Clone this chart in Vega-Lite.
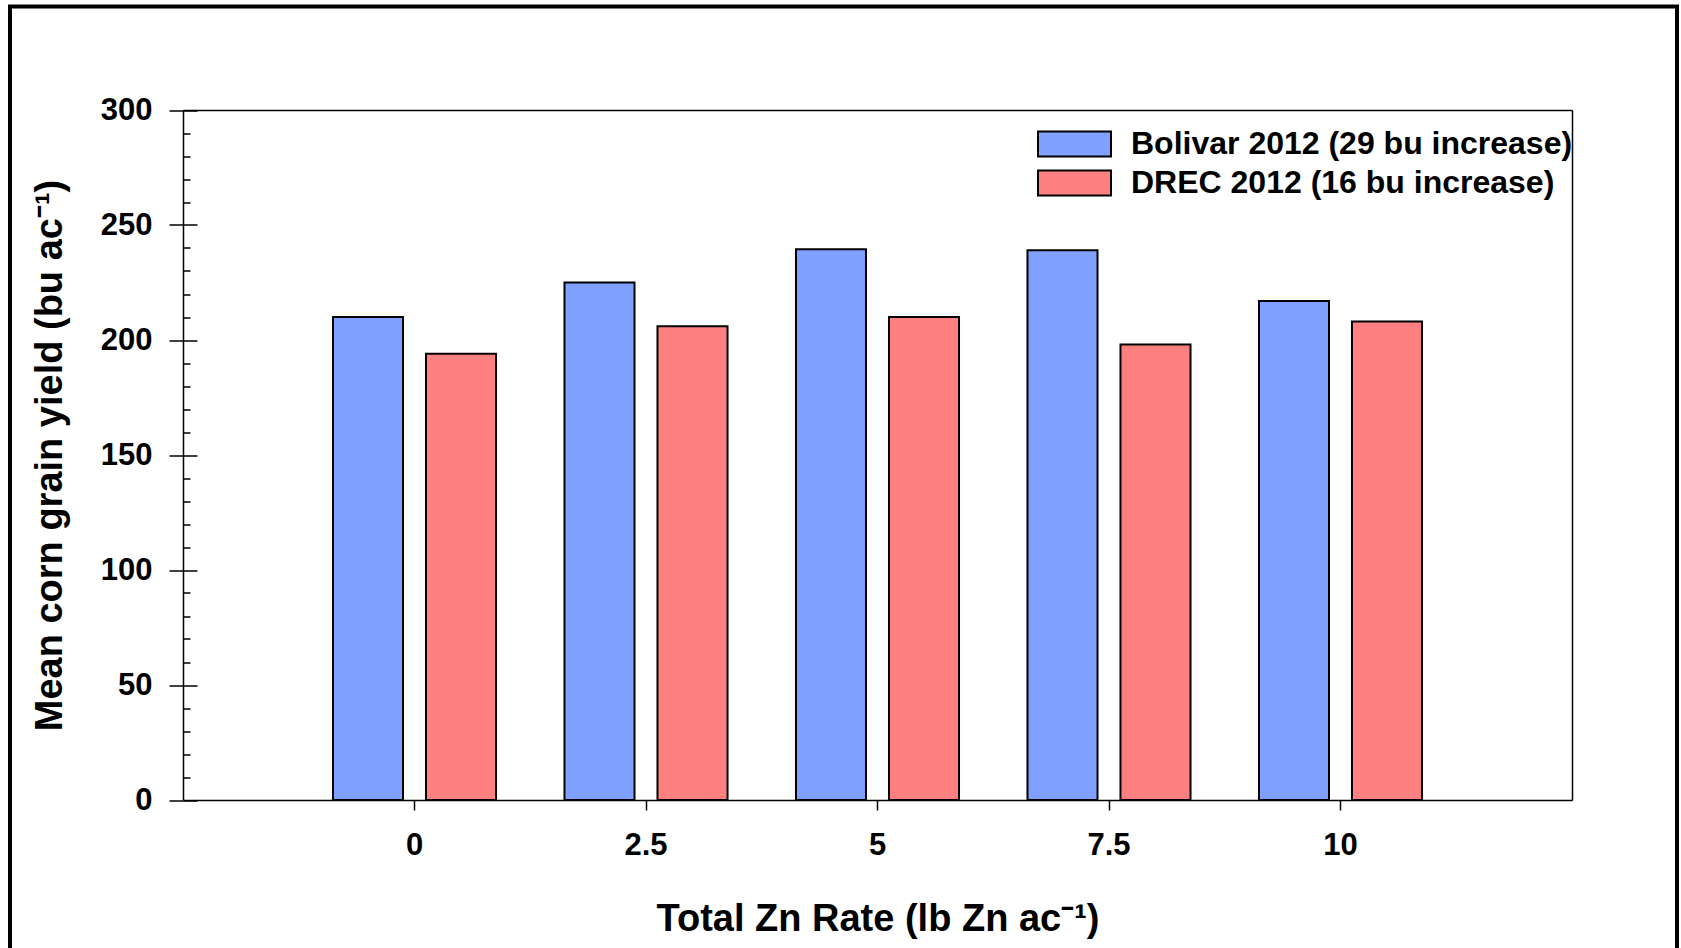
{
  "$schema": "https://vega.github.io/schema/vega-lite/v6.json",
  "width": 1667,
  "height": 951.5,
  "autosize": {"type": "none"},
  "padding": {"left": 10, "top": 6.5, "right": 4, "bottom": -10},
  "background": "white",
  "config": {
    "view": {"stroke": "black", "strokeWidth": 4, "fill": "white"},
    "font": "Liberation Sans",
    "axis": {
      "domainColor": "black", "domainWidth": 1.5,
      "tickColor": "black", "tickWidth": 1.5,
      "labelColor": "black", "titleColor": "black",
      "labelFont": "Liberation Sans", "labelFontWeight": "bold",
      "titleFont": "Liberation Sans", "titleFontWeight": "bold",
      "grid": false
    }
  },
  "data": {
    "values": [
      {"rate": "0", "site": "Bolivar 2012 (29 bu increase)", "yield": 210},
      {"rate": "0", "site": "DREC 2012 (16 bu increase)", "yield": 194},
      {"rate": "2.5", "site": "Bolivar 2012 (29 bu increase)", "yield": 225},
      {"rate": "2.5", "site": "DREC 2012 (16 bu increase)", "yield": 206},
      {"rate": "5", "site": "Bolivar 2012 (29 bu increase)", "yield": 239.5},
      {"rate": "5", "site": "DREC 2012 (16 bu increase)", "yield": 210},
      {"rate": "7.5", "site": "Bolivar 2012 (29 bu increase)", "yield": 239},
      {"rate": "7.5", "site": "DREC 2012 (16 bu increase)", "yield": 198},
      {"rate": "10", "site": "Bolivar 2012 (29 bu increase)", "yield": 217},
      {"rate": "10", "site": "DREC 2012 (16 bu increase)", "yield": 208}
    ]
  },
  "layer": [
    {
      "mark": {"type": "bar", "stroke": "black", "strokeWidth": 2, "opacity": 1},
      "encoding": {
        "x": {
          "field": "rate", "type": "nominal",
          "sort": ["0", "2.5", "5", "7.5", "10"],
          "scale": {"range": [173, 1562], "paddingInner": 0, "paddingOuter": 0.5},
          "axis": {
            "orient": "bottom", "offset": -158,
            "title": "Total Zn Rate (lb Zn ac⁻¹)",
            "titleFontSize": 38, "titlePadding": 40,
            "labelFontSize": 31, "labelPadding": 20, "labelAngle": 0,
            "tickSize": 10, "bandPosition": 0.5
          }
        },
        "xOffset": {
          "field": "site", "type": "nominal",
          "sort": ["Bolivar 2012 (29 bu increase)", "DREC 2012 (16 bu increase)"],
          "scale": {"paddingInner": 0.247, "paddingOuter": 0.368}
        },
        "y": {
          "field": "yield", "type": "quantitative",
          "scale": {"domain": [0, 300], "range": [793.5, 103.5], "nice": false, "zero": true},
          "axis": {
            "orient": "left", "offset": -173,
            "values": [0, 50, 100, 150, 200, 250, 300],
            "tickSize": 14, "labelPadding": 17, "labelFontSize": 31,
            "title": "Mean corn grain yield (bu ac⁻¹)",
            "titleFontSize": 38, "titlePadding": 31
          }
        },
        "color": {
          "field": "site", "type": "nominal",
          "scale": {
            "domain": ["Bolivar 2012 (29 bu increase)", "DREC 2012 (16 bu increase)"],
            "range": ["#80A0FF", "#FF8080"]
          },
          "legend": {
            "orient": "none", "legendX": 1027, "legendY": 120.5,
            "title": null, "padding": 0,
            "symbolType": "M-1,-0.78H3.5625V0.78H-1Z", "symbolSize": 1024,
            "symbolStrokeColor": "black", "symbolStrokeWidth": 2, "symbolOpacity": 1,
            "labelFontSize": 32, "labelFont": "Liberation Sans", "labelFontWeight": "bold",
            "labelColor": "black", "labelLimit": 800, "labelOffset": 60, "rowPadding": 5
          }
        }
      }
    },
    {
      "mark": {"type": "point", "opacity": 0},
      "encoding": {
        "x": {
          "field": "rate", "type": "nominal",
          "sort": ["0", "2.5", "5", "7.5", "10"],
          "scale": {"range": [173, 1562]},
          "axis": {"orient": "top", "offset": -103.5, "ticks": false, "labels": false, "title": null}
        },
        "y": {
          "field": "yield", "type": "quantitative",
          "scale": {"domain": [0, 300], "range": [793.5, 103.5], "nice": false},
          "axis": {"orient": "right", "offset": -105, "ticks": false, "labels": false, "title": null}
        }
      }
    },
    {
      "mark": {"type": "point", "opacity": 0},
      "encoding": {
        "y": {
          "field": "yield", "type": "quantitative",
          "scale": {"domain": [0, 300], "range": [793.5, 103.5], "nice": false},
          "axis": {
            "orient": "right", "offset": -1494,
            "values": [0, 10, 20, 30, 40, 50, 60, 70, 80, 90, 100, 110, 120, 130, 140, 150, 160, 170, 180, 190, 200, 210, 220, 230, 240, 250, 260, 270, 280, 290, 300],
            "domain": false, "labels": false, "title": null,
            "tickSize": {"condition": {"test": "datum.value % 50 === 0", "value": 14}, "value": 7}
          }
        }
      }
    }
  ],
  "resolve": {"scale": {"x": "independent", "y": "independent"}}
}
